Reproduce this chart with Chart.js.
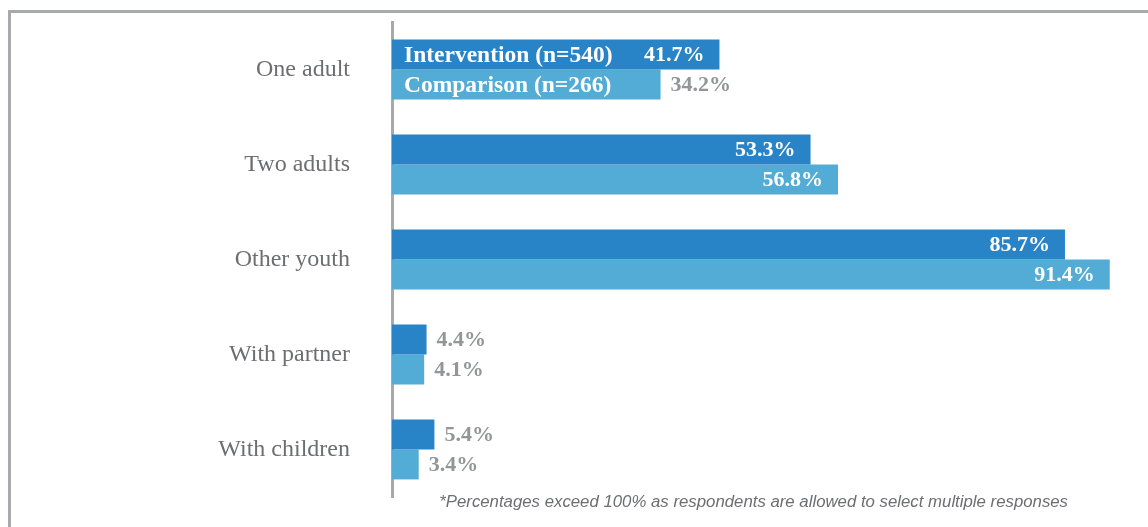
<!DOCTYPE html>
<html lang="en">
<head>
  <meta charset="UTF-8">
  <title>Living arrangements</title>
  <script src="https://cdn.jsdelivr.net/npm/chart.js"></script>
  <style>
    html, body { margin: 0; padding: 0; background: #fff; overflow: hidden; }
    .wrap { position: relative; width: 1148px; height: 527px; }
    .frame {
      position: absolute; left: 8px; top: 10px; width: 1200px; height: 600px;
      border-top: 3px solid #a7a9ac; border-left: 3px solid #a7a9ac;
      box-sizing: border-box;
    }
    canvas { position: absolute; left: 0; top: 0; }
    .note {
      position: absolute; right: 80px; top: 492px;
      font: italic 16.8px "Liberation Sans", Arial, sans-serif; color: #6d6e71;
    }
  </style>
</head>
<body>
  <div class="wrap">
    <div class="frame"></div>
    <canvas id="chart" width="1148" height="527"></canvas>
    <div class="note">*Percentages exceed 100% as respondents are allowed to select multiple responses</div>
  </div>

  <script>
    const categories = ['One adult', 'Two adults', 'Other youth', 'With partner', 'With children'];
    const seriesNames = ['Intervention (n=540)', 'Comparison (n=266)'];
    const intervention = [41.7, 53.3, 85.7, 4.4, 5.4];
    const comparison = [34.2, 56.8, 91.4, 4.1, 3.4];

    const darkBlue = '#2884c6';
    const lightBlue = '#52acd6';
    const labelGrey = '#939598';
    const serif = '"Liberation Serif", "DejaVu Serif", serif';

    // value labels plus the series names written inside the first pair of bars
    const barLabels = {
      id: 'barLabels',
      afterDatasetsDraw(chart) {
        const ctx = chart.ctx;
        ctx.save();
        ctx.textBaseline = 'middle';
        chart.data.datasets.forEach((ds, di) => {
          const meta = chart.getDatasetMeta(di);
          meta.data.forEach((bar, i) => {
            const v = ds.data[i];
            const text = v.toFixed(1) + '%';
            if (i === 0) {
              ctx.font = 'bold 23.5px ' + serif;
              ctx.fillStyle = '#fff';
              ctx.textAlign = 'left';
              ctx.fillText(seriesNames[di], bar.base + 12, bar.y + 1);
            }
            ctx.font = 'bold 22px ' + serif;
            if (v > 40) {
              ctx.fillStyle = '#fff';
              ctx.textAlign = 'right';
              ctx.fillText(text, bar.x - 15, bar.y + 1);
            } else {
              ctx.fillStyle = labelGrey;
              ctx.textAlign = 'left';
              ctx.fillText(text, bar.x + 10, bar.y + 1);
            }
          });
        });
        ctx.restore();
      }
    };

    new Chart(document.getElementById('chart'), {
      type: 'bar',
      data: {
        labels: categories,
        datasets: [
          { label: seriesNames[0], data: intervention, backgroundColor: darkBlue },
          { label: seriesNames[1], data: comparison, backgroundColor: lightBlue }
        ]
      },
      options: {
        indexAxis: 'y',
        responsive: false,
        animation: false,
        categoryPercentage: 0.63,
        barPercentage: 1,
        layout: { padding: { top: 22, bottom: 30, right: 10, left: 0 } },
        plugins: {
          legend: { display: false },
          tooltip: { enabled: false }
        },
        scales: {
          x: {
            display: false,
            min: 0,
            max: 95
          },
          y: {
            afterFit(scale) {
              scale.width = 392;
              scale.paddingTop = 0;
              scale.paddingBottom = 0;
            },
            grid: { display: false },
            border: { display: true, color: '#a7a9ac', width: 3 },
            ticks: {
              color: '#6d6e71',
              padding: 34,
              font: { family: serif, size: 24 }
            }
          }
        }
      },
      plugins: [barLabels]
    });
  </script>
</body>
</html>
